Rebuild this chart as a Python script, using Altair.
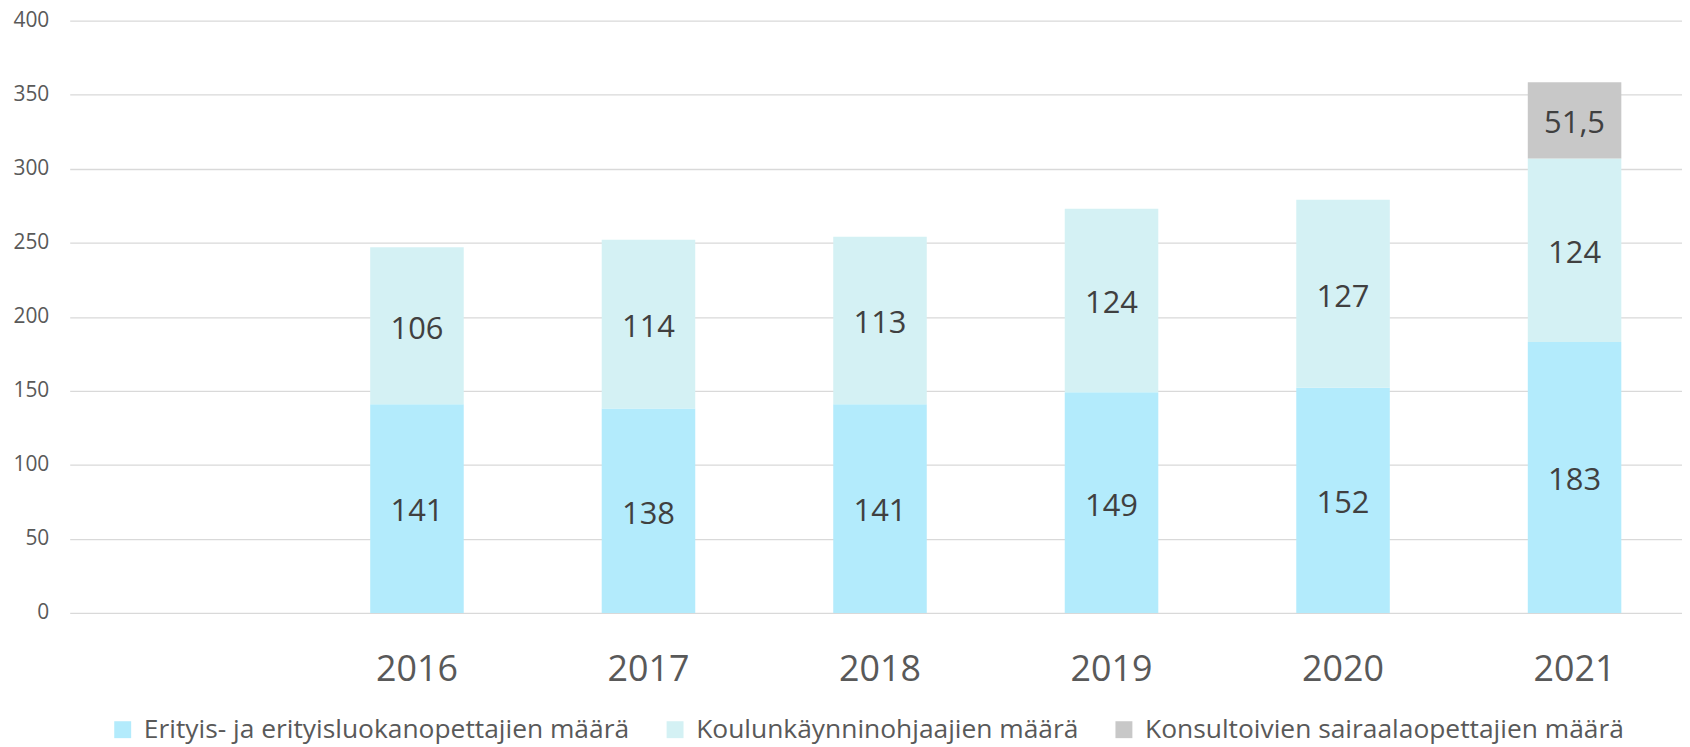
import altair as alt
import pandas as pd

years = ["2016", "2017", "2018", "2019", "2020", "2021"]
series_names = [
    "Erityis- ja erityisluokanopettajien määrä",
    "Koulunkäynninohjaajien määrä",
    "Konsultoivien sairaalaopettajien määrä",
]
erityis = [141, 138, 141, 149, 152, 183]
koulunkaynti = [106, 114, 113, 124, 127, 124]
konsultoivat = [None, None, None, None, None, 51.5]
colors = ["#b3ebfc", "#d4f1f4", "#c8c8c8"]
y_ticks = [0, 50, 100, 150, 200, 250, 300, 350, 400]

rows = []
for order, (name, vals) in enumerate(zip(series_names, [erityis, koulunkaynti, konsultoivat])):
    for yr, v in zip(years, vals):
        if v is None:
            continue
        lab = (f"{v:g}").replace(".", ",")
        rows.append({"year": yr, "series": name, "value": v, "order": order, "label": lab})
df = pd.DataFrame(rows)

FONT = "Open Sans"

base = alt.Chart(df).transform_stack(
    stack="value", groupby=["year"], as_=["v0", "v1"],
    sort=[alt.SortField("order", order="ascending")]
).transform_calculate(mid="(datum.v0 + datum.v1) / 2")

xscale = alt.Scale(domain=years, paddingInner=0.596, paddingOuter=0.78, align=0.832)

xenc = alt.X(
    "year:N", sort=years, title=None, scale=xscale,
    axis=alt.Axis(labelAngle=0, labelFontSize=36, labelColor="#595959", labelFont=FONT,
                  domain=False, ticks=False, tickSize=0, labelPadding=68,
                  labelBaseline="alphabetic", grid=False),
)

bars = base.mark_bar().encode(
    x=xenc,
    y=alt.Y("v0:Q", title=None,
            scale=alt.Scale(domain=[0, 400], nice=False),
            axis=alt.Axis(values=y_ticks, grid=True, gridColor="#d9d9d9", gridWidth=1.3,
                          domain=False, ticks=False, tickSize=0, labelFontSize=21,
                          labelColor="#595959", labelFont=FONT, labelPadding=21)),
    y2="v1:Q",
    color=alt.Color("series:N", sort=series_names,
                    scale=alt.Scale(domain=series_names, range=colors),
                    legend=alt.Legend(orient="none", legendX=40, legendY=699,
                                      direction="horizontal", title=None,
                                      symbolType="square", symbolSize=289,
                                      symbolStrokeWidth=0, labelFontSize=26.5,
                                      labelFont=FONT, labelColor="#595959",
                                      labelOffset=8, columnPadding=32,
                                      labelLimit=1000, padding=0)),
)

texts = base.mark_text(fontSize=31, font=FONT, color="#404040", baseline="middle", dy=4).encode(
    x=alt.X("year:N", sort=years, scale=xscale),
    y=alt.Y("mid:Q"),
    text="label:N",
)

chart = (bars + texts).properties(
    width=1620, height=595,
    autosize=alt.AutoSizeParams(type="none"),
    padding={"left": 62, "top": 11, "right": 0, "bottom": 133},
    background="white",
).configure_view(stroke=None)

chart.save("out.html", embed_options={"renderer": "svg", "actions": False})
